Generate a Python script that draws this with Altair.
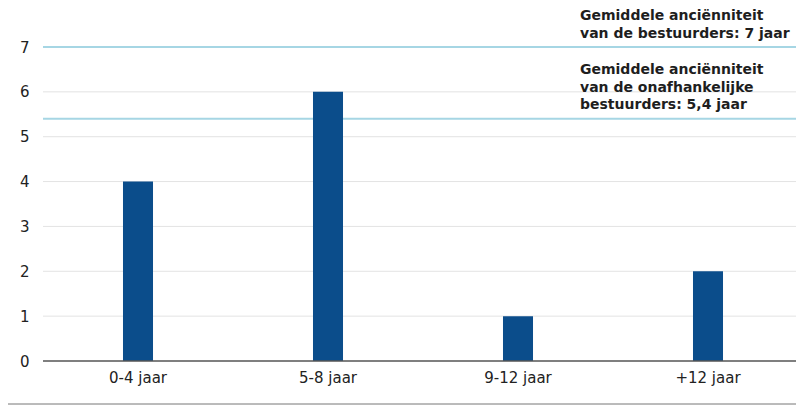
import altair as alt
import pandas as pd

categories = ["0-4 jaar", "5-8 jaar", "9-12 jaar", "+12 jaar"]
values = [4, 6, 1, 2]
ref_values = [7, 5.4]
y_ticks = [0, 1, 2, 3, 4, 5, 6, 7]
ann1 = ["Gemiddele anciënniteit", "van de bestuurders: 7 jaar"]
ann2 = ["Gemiddele anciënniteit", "van de onafhankelijke", "bestuurders: 5,4 jaar"]

df = pd.DataFrame({"cat": categories, "val": values})
ref = pd.DataFrame({"v": ref_values})
grid = pd.DataFrame({"v": y_ticks[1:]})
base0 = pd.DataFrame({"v": [0]})
ann = pd.DataFrame({
    "t": ann1 + ann2,
    "yp": [-31, -13, 23, 41, 58],
})

FONT = "DejaVu Sans"
W = 753
FULL = 761

ysc = alt.Scale(domain=[0, 7], nice=False)

gridrules = alt.Chart(grid).mark_rule(color="#e3e3e3", strokeWidth=1).encode(
    y=alt.Y("v:Q", scale=ysc), x=alt.value(0), x2=alt.value(FULL)
)

bars = alt.Chart(df).mark_bar(color="#0b4d8b").encode(
    x=alt.X("cat:N", sort=categories,
            scale=alt.Scale(range=[0, 760], paddingInner=0.842, paddingOuter=0.421),
            axis=alt.Axis(title=None, labelAngle=0, ticks=False, domain=False,
                          labelFontSize=15, labelColor="#222222", labelFont=FONT,
                          labelPadding=9, grid=False)),
    y=alt.Y("val:Q", scale=ysc,
            axis=alt.Axis(title=None, values=y_ticks, ticks=False, domain=False,
                          grid=False,
                          labelFontSize=15, labelColor="#222222", labelFont=FONT,
                          labelPadding=14)),
)

baseline = alt.Chart(base0).mark_rule(color="#555555", strokeWidth=1.5).encode(
    y=alt.Y("v:Q", scale=ysc), x=alt.value(0), x2=alt.value(FULL)
)

rules = alt.Chart(ref).mark_rule(color="#a6d6e4", strokeWidth=2).encode(
    y=alt.Y("v:Q", scale=ysc), x=alt.value(0), x2=alt.value(FULL)
)

texts = alt.Chart(ann).mark_text(align="left", baseline="middle", fontSize=14,
                                  fontWeight="bold", font=FONT, color="#1e1e1e").encode(
    x=alt.value(537), y=alt.Y("yp:Q", scale=None), text="t:N"
)

bottom = alt.Chart(pd.DataFrame({"a": [0]})).mark_rule(color="#777777", strokeWidth=1).encode(
    x=alt.value(-35), x2=alt.value(FULL), y=alt.value(357)
)

chart = alt.layer(gridrules, rules, bars, baseline, texts, bottom).properties(
    width=W, height=314,
    autosize=alt.AutoSizeParams(type="none"),
    padding={"left": 35, "top": 39, "right": 0, "bottom": 45},
).configure_view(stroke=None, clip=False)

chart.save("out.html", embed_options={"renderer": "svg", "actions": False})
